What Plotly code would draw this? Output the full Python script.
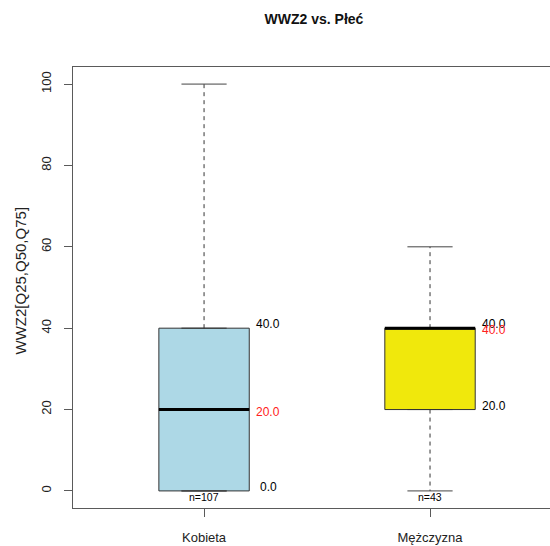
import plotly.graph_objects as go

# Quartile summary of WWZ2 by sex
categories = ["Kobieta", "Mężczyzna"]
q25 = [0, 20]
q50 = [20, 40]
q75 = [40, 40]
whisker_low = [0, 0]
whisker_high = [100, 60]
counts = [107, 43]
box_colors = ["#ADD8E6", "#F0E80C"]

positions = list(range(1, len(categories) + 1))
half_box = 0.2
half_cap = 0.1

FONT = "Liberation Sans, Arial, sans-serif"

fig = go.Figure()

for p, lo, hi, a, m, b, col in zip(positions, whisker_low, whisker_high, q25, q50, q75, box_colors):
    # dashed whiskers
    fig.add_trace(go.Scatter(
        x=[p, p, None, p, p], y=[b, hi, None, a, lo], mode="lines",
        line=dict(color="#333333", width=1, dash="4px,4px"),
        hoverinfo="skip", showlegend=False))
    # whisker caps
    fig.add_trace(go.Scatter(
        x=[p - half_cap, p + half_cap, None, p - half_cap, p + half_cap],
        y=[hi, hi, None, lo, lo], mode="lines",
        line=dict(color="#444444", width=1),
        hoverinfo="skip", showlegend=False))
    # box body
    fig.add_trace(go.Box(
        x=[p], q1=[a], median=[m], q3=[b], lowerfence=[a], upperfence=[b],
        width=2 * half_box, fillcolor=col, line=dict(color="#333333", width=1),
        boxpoints=False, showlegend=False))
    # thick median bar
    fig.add_trace(go.Scatter(
        x=[p - half_box, p + half_box], y=[m, m], mode="lines",
        line=dict(color="black", width=3), hoverinfo="skip", showlegend=False))

annotations = []
for p, a, m, b, lo, n in zip(positions, q25, q50, q75, whisker_low, counts):
    for val, color, shift in ((b, "black", 4), (a, "black", 4), (m, "#FF2020", -2)):
        annotations.append(dict(
            x=p + 0.285, y=val, xref="x", yref="y", text=f"{val:.1f}",
            showarrow=False, xanchor="center", yanchor="middle", yshift=shift,
            font=dict(family=FONT, size=12, color=color)))
    annotations.append(dict(
        x=p, y=lo, xref="x", yref="y", text=f"n={n}", showarrow=False,
        xanchor="center", yanchor="middle", yshift=-6,
        font=dict(family=FONT, size=10.5, color="black")))

annotations.append(dict(
    x=0, y=0.5, xref="paper", yref="paper", xshift=-53, yshift=7,
    text="WWZ2[Q25,Q50,Q75]", textangle=-90, showarrow=False,
    xanchor="center", yanchor="middle",
    font=dict(family=FONT, size=15, color="#222222")))

fig.update_layout(
    width=550, height=546,
    margin=dict(l=73, r=0, t=67, b=38),
    paper_bgcolor="white", plot_bgcolor="white",
    boxmode="overlay",
    title=dict(text="<b>WWZ2 vs. Płeć</b>", x=314 / 550, xref="container",
               y=1 - 19 / 546, yref="container", xanchor="center", yanchor="middle",
               font=dict(family=FONT, size=14, color="#111111")),
    annotations=annotations,
    xaxis=dict(
        range=[0.42, 2.531], tickmode="array", tickvals=positions, ticktext=categories,
        showgrid=False, zeroline=False, showline=True, mirror=True, automargin=False,
        linecolor="#5a5a5a", linewidth=1,
        ticks="outside", ticklen=8, tickcolor="#5a5a5a", ticklabelstandoff=9,
        tickfont=dict(family=FONT, size=13, color="#222222")),
    yaxis=dict(
        range=[-4.2, 104.2], tickmode="array", tickvals=[0, 20, 40, 60, 80, 100],
        showgrid=False, zeroline=False, showline=True, mirror=False, automargin=False,
        linecolor="#5a5a5a", linewidth=1,
        ticks="outside", ticklen=8, tickcolor="#5a5a5a", tickangle=-90,
        ticklabelstandoff=8,
        tickfont=dict(family=FONT, size=13, color="#222222")),
)

fig.write_html("out.html")
